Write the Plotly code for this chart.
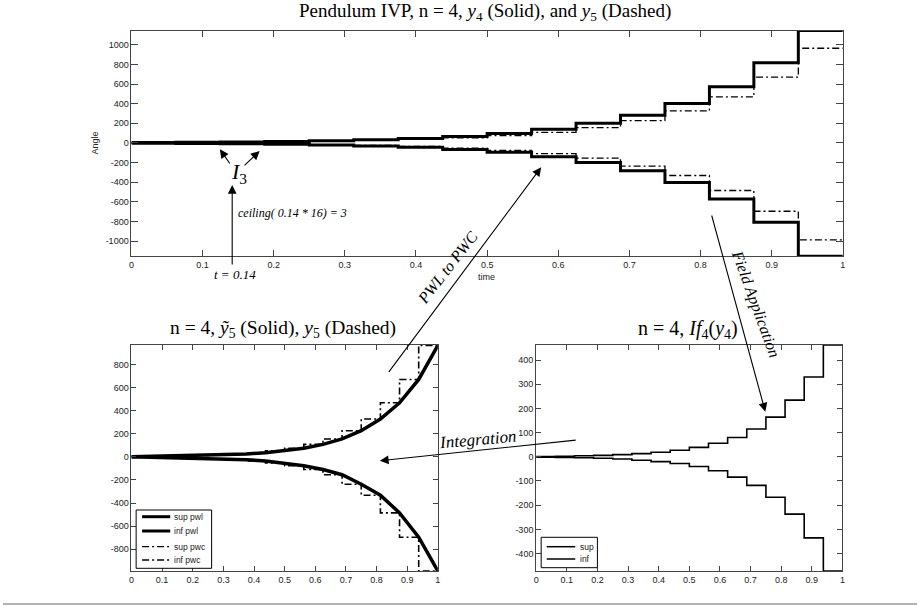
import plotly.graph_objects as go

W, H = 920, 606

# ---------------- data ----------------
t_edges = [0, 0.0625, 0.125, 0.1875, 0.25, 0.3125, 0.375, 0.4375, 0.5,
           0.5625, 0.625, 0.6875, 0.75, 0.8125, 0.875, 0.9375, 1]

# top panel: y4 (solid) and y5 (dash-dot), one value per interval
y4_sup = [4, 6.5, 9.5, 14, 21, 31, 45, 66, 96, 140, 199, 283, 402, 572, 816, 1145]
y4_inf = [-4, -6.5, -9.5, -14, -21, -31, -45, -66, -96, -140, -199, -283, -402, -572, -808, -1155]
y5_sup = [4, 6, 8.5, 12, 17.5, 25, 36, 52, 75, 108, 155, 226, 327, 468, 670, 964]
y5_inf = [-4, -6, -8.5, -12, -17.5, -25, -36, -53, -77, -110, -155, -237, -332, -485, -696, -988]

# bottom-left: piecewise-linear knots (at t_edges)
pwl_sup = [0, 4, 6, 8.5, 12, 17.5, 25, 36, 52, 75, 108, 155, 226, 327, 468, 670, 964]
pwl_inf = [0, -4, -6, -8.5, -12, -17.5, -25, -36, -53, -77, -110, -155, -237, -332, -485, -696, -988]

# bottom-right: If4(y4)
if4_sup = [1.5, 2.5, 4, 6, 9, 13, 19, 27, 39, 56, 80, 115, 164, 234, 330, 462]
if4_inf = [-1.5, -2.5, -4, -6, -9, -14, -20, -28, -40, -58, -84, -118, -167, -237, -335, -472]

x_ticks = [0, 0.1, 0.2, 0.3, 0.4, 0.5, 0.6, 0.7, 0.8, 0.9, 1]
x_ticktext = ["0", "0.1", "0.2", "0.3", "0.4", "0.5", "0.6", "0.7", "0.8", "0.9", "1"]
y1_ticks = [-1000, -800, -600, -400, -200, 0, 200, 400, 600, 800, 1000]
y1_ticktext = ["-1000", "-800", "-600", "-400", "-200", "0", "200", "400", "600", "800", "1000"]
y2_ticks = [-800, -600, -400, -200, 0, 200, 400, 600, 800]
y2_ticktext = ["-800", "-600", "-400", "-200", "0", "200", "400", "600", "800"]
y3_ticks = [-400, -300, -200, -100, 0, 100, 200, 300, 400]
y3_ticktext = ["-400", "-300", "-200", "-100", "0", "100", "200", "300", "400"]

# ---------------- helpers ----------------
def PX(x):
    return x / W

def PY(y):
    return 1 - y / H

SANS = "Liberation Sans, Arial, sans-serif"
SERIF = "Liberation Serif, Times New Roman, serif"
DASHDOT = "7px,3px,2px,3px"

def step_xy(vals):
    return t_edges, list(vals) + [vals[-1]]

fig = go.Figure()

def add_step(vals, xa, ya, width, dash=None, name=""):
    xs, ys = step_xy(vals)
    fig.add_trace(go.Scatter(x=xs, y=ys, xaxis=xa, yaxis=ya, mode="lines",
                             line=dict(color="black", width=width, shape="hv",
                                       dash=dash if dash else "solid"),
                             name=name, showlegend=False, hoverinfo="skip"))

# top panel
add_step(y5_sup, "x", "y", 1.3, DASHDOT, "y5 sup")
add_step(y5_inf, "x", "y", 1.3, DASHDOT, "y5 inf")
add_step(y4_sup, "x", "y", 3, None, "y4 sup")
add_step(y4_inf, "x", "y", 3, None, "y4 inf")

# bottom-left
add_step(y5_sup, "x2", "y2", 1.6, DASHDOT, "sup pwc")
add_step(y5_inf, "x2", "y2", 1.6, DASHDOT, "inf pwc")
fig.add_trace(go.Scatter(x=t_edges, y=pwl_sup, xaxis="x2", yaxis="y2", mode="lines",
                         line=dict(color="black", width=3.5), name="sup pwl",
                         showlegend=False, hoverinfo="skip"))
fig.add_trace(go.Scatter(x=t_edges, y=pwl_inf, xaxis="x2", yaxis="y2", mode="lines",
                         line=dict(color="black", width=3.5), name="inf pwl",
                         showlegend=False, hoverinfo="skip"))

# bottom-right
add_step(if4_sup, "x3", "y3", 1.6, None, "sup")
add_step(if4_inf, "x3", "y3", 1.6, None, "inf")

axis_common = dict(showline=True, linecolor="#444", linewidth=1, mirror="ticks",
                   ticks="inside", tickcolor="#444", showgrid=False, zeroline=False,
                   tickfont=dict(family=SANS, size=9, color="#222"))

fig.update_layout(
    width=W, height=H, margin=dict(l=0, r=0, t=0, b=0),
    paper_bgcolor="white", plot_bgcolor="white", showlegend=False,
    xaxis=dict(domain=[PX(129.3), PX(845.3)], range=[0, 1], anchor="y",
               tickvals=x_ticks, ticktext=x_ticktext, ticklen=6, **axis_common),
    yaxis=dict(domain=[PY(256.3), PY(30.5)], range=[-1155, 1145], anchor="x",
               tickvals=y1_ticks, ticktext=y1_ticktext, ticklen=7, **axis_common),
    xaxis2=dict(domain=[PX(129.3), PX(437.7)], range=[0, 1], anchor="y2",
                tickvals=x_ticks, ticktext=x_ticktext, ticklen=5, **axis_common),
    yaxis2=dict(domain=[PY(571), PY(345)], range=[-988, 968], anchor="x2",
                tickvals=y2_ticks, ticktext=y2_ticktext, ticklen=5, **axis_common),
    xaxis3=dict(domain=[PX(536.7), PX(845)], range=[0, 1], anchor="y3",
                tickvals=x_ticks, ticktext=x_ticktext, ticklen=5, **axis_common),
    yaxis3=dict(domain=[PY(571), PY(345)], range=[-472, 462], anchor="x3",
                tickvals=y3_ticks, ticktext=y3_ticktext, ticklen=5, **axis_common),
)

annotations = []

def text_ann(text, x, y, size, family=SERIF, angle=0, xanchor="center", color="black"):
    annotations.append(dict(text=text, x=PX(x), y=PY(y), xref="paper", yref="paper",
                            showarrow=False, xanchor=xanchor, yanchor="middle",
                            textangle=angle, font=dict(family=family, size=size, color=color)))

def arrow(hx, hy, tx, ty):
    annotations.append(dict(text="", x=PX(hx), y=PY(hy), xref="paper", yref="paper",
                            showarrow=True, ax=tx - hx, ay=ty - hy, axref="pixel", ayref="pixel",
                            arrowhead=2, arrowsize=1.6, arrowwidth=1.1, arrowcolor="black",
                            standoff=0, startstandoff=0))

# titles
text_ann("Pendulum IVP, n = 4, <i>y</i><sub>4</sub> (Solid), and <i>y</i><sub>5</sub> (Dashed)",
         485, 12, 19)
text_ann("n = 4, <i>ỹ</i><sub>5</sub> (Solid), <i>y</i><sub>5</sub> (Dashed)", 281.5, 329, 19.5)
text_ann("n = 4, <i>If</i><sub>4</sub>(<i>y</i><sub>4</sub>)", 689, 329.5, 20)

# axis labels
text_ann("Angle", 93, 143, 9, family=SANS, angle=-90, color="#222")
text_ann("time", 487, 276.5, 9, family=SANS, color="#222")

# top-panel annotations
text_ann("<i>I</i><sub>3</sub>", 238, 173, 22)
arrow(218.3, 149.3, 229.3, 165)
arrow(258.3, 151, 241.7, 166.7)
arrow(230.7, 185, 230.7, 266)
text_ann("<i>ceiling( 0.14 * 16) = 3</i>", 234.3, 212.7, 12, xanchor="left")
text_ann("<i>t = 0.14</i>", 234, 274, 13)

# cross-panel arrows
arrow(541.7, 167.3, 388.3, 373.3)
text_ann("<i>PWL to PWC</i>", 447.5, 267.5, 16, angle=-52)
arrow(767.3, 411.7, 713.3, 214)
text_ann("<i>Field Application</i>", 757.5, 304, 16, angle=70)
arrow(379.3, 460.7, 576.7, 440)
text_ann("<i>Integration</i>", 478, 439.5, 17, angle=-5)

shapes = []
# bottom separator line
shapes.append(dict(type="line", xref="paper", yref="paper", x0=0, x1=1, y0=PY(604), y1=PY(604),
                   line=dict(color="#999", width=1.5), layer="above"))

# manual legends
def legend_box(x0, y0, x1, y1):
    shapes.append(dict(type="rect", xref="paper", yref="paper", x0=PX(x0), x1=PX(x1),
                       y0=PY(y1), y1=PY(y0), line=dict(color="black", width=1),
                       fillcolor="white", layer="above"))

def legend_entry(label, lx0, lx1, y, width, dash, tx):
    shapes.append(dict(type="line", xref="paper", yref="paper", x0=PX(lx0), x1=PX(lx1),
                       y0=PY(y), y1=PY(y), line=dict(color="black", width=width, dash=dash),
                       layer="above"))
    text_ann(label, tx, y, 8.5, family=SANS, xanchor="left", color="#222")

legend_box(134, 510, 210, 568.3)
legend_entry("sup pwl", 140, 168.3, 516.7, 3, "solid", 170.5)
legend_entry("inf pwl", 140, 168.3, 531, 3, "solid", 170.5)
legend_entry("sup pwc", 140, 168.3, 546.7, 1.2, DASHDOT, 170.5)
legend_entry("inf pwc", 140, 168.3, 560, 1.6, DASHDOT, 170.5)

legend_box(541.7, 537.3, 598.3, 567.7)
legend_entry("sup", 547.3, 576, 546.7, 1.5, "solid", 578.5)
legend_entry("inf", 547.3, 576, 559, 1.5, "solid", 578.5)

fig.update_layout(annotations=annotations, shapes=shapes)

fig.write_html("out.html",
               config={"displayModeBar": False},
               post_script="document.body.style.margin='0';document.body.style.padding='0';"
                           "document.documentElement.style.overflow='hidden';")
